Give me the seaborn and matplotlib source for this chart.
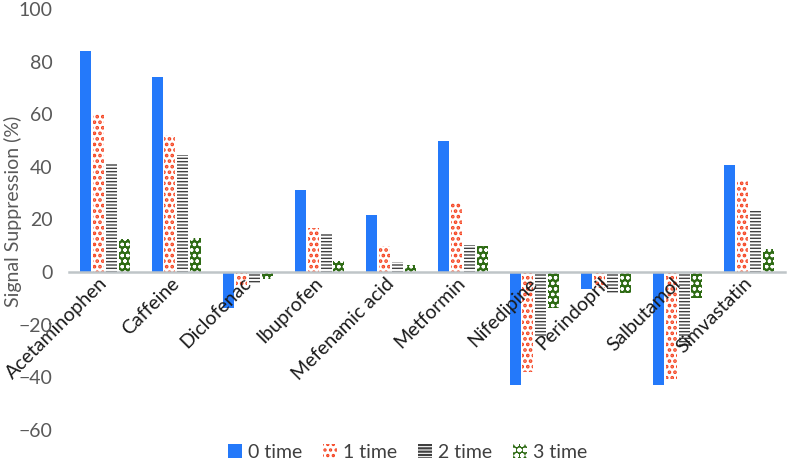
import numpy as np
import pandas as pd
import matplotlib
matplotlib.use("Agg")
import matplotlib.pyplot as plt
import seaborn as sns

drugs = ["Acetaminophen", "Caffeine", "Diclofenac", "Ibuprofen", "Mefenamic acid",
         "Metformin", "Nifedipine", "Perindopril", "Salbutamol", "Simvastatin"]
series = ["0 time", "1 time", "2 time", "3 time"]

time0 = [84, 74, -13.5, 31.2, 21.8, 49.8, -43, -6.5, -43, 40.8]
time1 = [60.6, 52.2, -5.3, 16.8, 9.9, 26.1, -38, -6, -40.5, 34.5]
time2 = [41.2, 44.4, -4.5, 14.3, 3.9, 10.4, -24.3, -8.5, -28, 23.2]
time3 = [12.7, 12.9, -2.5, 4.2, 2.7, 9.9, -13.5, -7.9, -10, 8.9]

colors = ["#2479FA", "#F5411E", "#404040", "#2E6B14"]

df = pd.DataFrame({
    "drug": drugs * 4,
    "series": [s for s in series for _ in drugs],
    "value": time0 + time1 + time2 + time3,
})

sns.set_style("white")
plt.rcParams["font.family"] = ["Lato", "DejaVu Sans"]
plt.rcParams["hatch.linewidth"] = 1.6

fig = plt.figure(figsize=(7.87, 4.66), dpi=100)
ax = fig.add_axes([69 / 787, 1 - 430 / 466, 716 / 787, 421 / 466])

sns.barplot(data=df, x="drug", y="value", hue="series", hue_order=series,
            order=drugs, width=0.72, gap=0.15, ax=ax, legend=False,
            palette=colors, saturation=1)

# Excel-like fill patterns (face, hatch colour, hatch, hatch line width)
styles = [
    (colors[0], colors[0], None, 1.0),
    ("white", colors[1], "...", 1.8),
    ("white", colors[2], "-----", 1.0),
    (colors[3], "white", "ooo", 0.9),
]


def set_hatch_lw(p, lw):
    if hasattr(p, "set_hatch_linewidth"):
        p.set_hatch_linewidth(lw)
    elif hasattr(p, "_hatch_linewidth"):
        p._hatch_linewidth = lw


for cont, (fc, ec, hatch, hlw) in zip(ax.containers, styles):
    for p in cont.patches:
        p.set_facecolor(fc)
        p.set_edgecolor(ec)
        p.set_linewidth(0)
        if hatch:
            p.set_hatch(hatch)
            set_hatch_lw(p, hlw)

ax.set_ylim(-60, 100)
ax.set_xlim(-0.5, 9.5)
ax.set_yticks(range(-60, 101, 20))
ax.set_axisbelow(False)  # category labels sit on top of the negative bars
ax.tick_params(axis="y", length=0, pad=12, labelsize=14, labelcolor="#595959")
ax.tick_params(axis="x", length=0, pad=6, labelsize=14, labelcolor="#1a1a1a")
for spine in ["left", "right", "top"]:
    ax.spines[spine].set_visible(False)
ax.spines["bottom"].set_position(("data", 0))
ax.spines["bottom"].set_color("#BFC5C8")
ax.spines["bottom"].set_linewidth(1.8)
for lab in ax.get_xticklabels():
    lab.set_rotation(45)
    lab.set_ha("right")
    lab.set_va("center")
    lab.set_rotation_mode("anchor")

ax.set_xlabel("")
ax.set_ylabel("Signal Suppression (%)", fontsize=14, color="#595959")
ax.yaxis.set_label_coords(-0.066, 0.52)

handles = [c.patches[0] for c in ax.containers]
fig.legend(handles, series, loc="center", bbox_to_anchor=(0.518, 0.03), ncol=4,
           frameon=False, fontsize=14, handlelength=0.7, handleheight=0.7,
           handletextpad=0.3, columnspacing=1.1, labelcolor="#404040")

fig.savefig("out.png", dpi=100)
